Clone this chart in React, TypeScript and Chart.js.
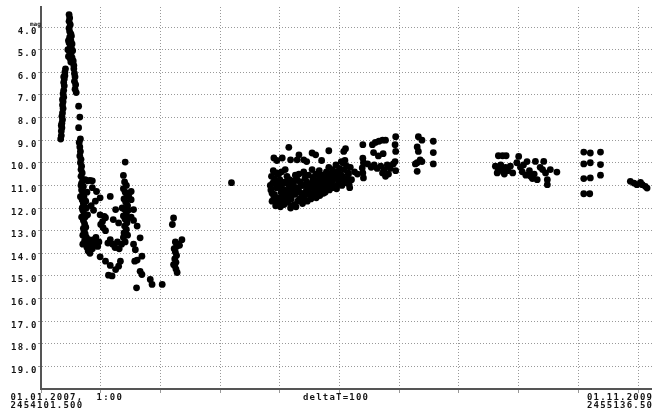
import React, { useEffect, useRef } from "react";
import { Chart, registerables } from "chart.js";

Chart.register(...registerables);

// x values: days since JD 2454101.5 ; y values: magnitude
const START_JD = 2454101.5;
const END_JD = 2455136.5;
const SPAN_DAYS = END_JD - START_JD;
const dayTicks = [0, 100, 200, 300, 400, 500, 600, 700, 800, 900, 1000];
const magTicks = [4, 5, 6, 7, 8, 9, 10, 11, 12, 13, 14, 15, 16, 17, 18, 19];
const yTitle = "mag";
const leftLabel = ["01.01.2007,  1:00", "2454101.500"];
const midLabel = "deltaT=100";
const rightLabel = ["01.11.2009,", "2455136.500"];

const rise2007 = [[33,8.95],[34,8.8],[34,8.6],[35,8.45],[35,8.25],[36,8.1],[35,7.95],[36,7.8],[37,7.6],[36,7.45],[37,7.3],[38,7.1],[37,6.95],[38,6.8],[39,6.6],[38,6.45],[39,6.3],[40,6.15],[40,6.0],[41,5.85],[34,8.35],[36,7.2],[38,6.2]];

const peak2007 = [[47,3.45],[48,3.6],[47,3.75],[49,3.9],[47,4.05],[48,4.2],[50,4.3],[48,4.45],[50,4.6],[47,4.7],[49,4.85],[51,4.95],[48,5.1],[50,5.2],[46,5.3],[49,5.4],[45,5.0],[46,4.6],[52,4.75],[53,5.05],[52,5.35],[54,5.5],[55,5.7],[55,5.85],[56,6.05],[57,6.2],[56,6.4],[58,6.55],[57,6.75],[59,6.9],[50,5.55],[51,4.4]];

const after2007 = [[63,7.5],[65,7.98],[63,8.45],[66,8.95]];

const decline2007 = [[64,9.1],[65,9.3],[66,9.5],[65,9.7],[67,9.85],[66,10.0],[68,10.15],[67,10.3],[69,10.45],[67,10.6],[70,10.75],[68,10.9],[71,11.05],[68,11.2],[70,11.35],[72,11.5],[69,11.65],[71,11.8],[73,11.95],[70,12.1],[72,12.25],[74,12.4],[71,12.55],[73,12.7],[75,12.85],[72,13.0],[74,13.15],[76,13.3],[73,13.45],[75,13.6],[77,13.75],[70,13.6],[67,11.0],[69,12.0],[71,12.9],[76,12.0],[78,12.3],[77,11.3],[75,11.7],[74,10.75],[78,10.8],[82,10.78],[86,10.8],[66,11.5],[68,12.4],[70,13.2]];

const mid2007 = [[86,11.1],[93,11.27],[99,11.55],[91,11.7],[84,11.9],[88,12.1],[99,12.3],[108,12.43],[103,12.6],[104,12.87],[108,13.0],[100,12.73],[106,12.37],[116,11.49],[125,12.07],[121,12.51],[130,12.66],[80,13.4],[82,13.6],[84,13.5],[86,13.8],[88,13.4],[79,13.9],[90,13.6],[92,13.3],[95,13.7],[82,14.0],[97,13.5],[116,13.4],[120,13.6],[124,13.75],[128,13.5],[131,13.8],[112,13.55]];

const fade2007 = [[99,14.16],[108,14.35],[116,14.54],[119,15.0],[113,14.97],[125,14.72],[130,14.57],[133,14.35],[157,14.35],[161,14.3],[169,14.13],[166,14.8],[169,14.94],[183,15.16],[186,15.38],[203,15.38],[160,15.53]];

const rebright2007 = [[141,9.97],[138,10.56],[140,10.85],[143,11.0],[138,11.15],[141,11.3],[144,11.45],[139,11.6],[142,11.75],[145,11.9],[140,12.05],[143,12.2],[138,12.35],[141,12.5],[144,12.65],[140,12.8],[143,12.95],[139,13.1],[146,12.1],[147,11.5],[136,12.0],[151,11.27],[151,11.63],[155,12.07],[146,12.43],[161,12.8],[166,13.32],[155,13.6],[158,13.84],[151,12.4],[155,12.55],[135,13.6],[138,13.3],[141,13.5],[145,13.2]];

const late2007 = [[222,12.44],[220,12.73],[236,13.4],[230,13.6],[225,13.5],[227,13.7],[223,13.8],[225,13.95],[227,14.1],[224,14.25],[226,14.4],[224,14.55],[226,14.7],[228,14.85],[222,14.5],[232,13.65]];

const single2007 = [[319,10.88]];

const season2008a = [[386,10.6],[388,10.9],[385,11.2],[390,11.5],[387,11.7],[392,10.8],[394,11.1],[391,11.4],[396,11.8],[393,11.9],[398,10.5],[400,10.75],[397,11.0],[402,11.3],[399,11.55],[404,11.75],[401,11.95],[406,10.9],[408,11.2],[405,11.45],[410,11.65],[407,11.85],[412,10.6],[414,10.95],[411,11.25],[416,11.5],[413,11.75],[418,12.0],[420,10.8],[417,11.1],[422,11.35],[419,11.6],[424,11.85],[426,10.55],[423,10.9],[428,11.15],[425,11.4],[430,11.7],[427,11.95],[389,10.35],[395,10.45],[403,10.4],[409,10.3]];

const season2008b = [[432,10.5],[434,10.85],[431,11.1],[436,11.35],[433,11.6],[438,11.8],[440,10.4],[442,10.7],[439,11.0],[444,11.25],[441,11.5],[446,11.7],[448,10.55],[445,10.85],[450,11.1],[447,11.4],[452,11.6],[454,10.3],[456,10.65],[453,10.95],[458,11.2],[455,11.45],[460,10.5],[462,10.8],[459,11.05],[464,11.3],[461,11.55],[466,10.35],[468,10.7],[465,10.95],[470,11.2],[467,11.45],[472,10.55],[474,10.85],[471,11.1],[476,11.3],[478,10.4],[475,10.65],[480,10.95],[477,11.15]];

const season2008c = [[482,10.2],[484,10.5],[481,10.75],[486,11.0],[483,11.2],[488,10.3],[490,10.6],[487,10.85],[492,11.05],[494,10.1],[496,10.4],[493,10.7],[498,10.9],[495,11.15],[500,10.25],[502,10.55],[499,10.75],[504,11.0],[506,10.0],[508,10.3],[505,10.6],[510,10.85],[512,10.15],[514,10.45],[511,10.7],[516,10.95],[518,10.2],[515,10.5],[520,10.75],[517,11.1],[509,9.9],[503,9.95]];

const season2008fill = [[384,11.0],[387,11.35],[391,10.7],[395,11.65],[399,10.9],[403,11.1],[405,11.6],[409,10.85],[413,11.4],[416,10.75],[419,11.25],[421,11.9],[425,11.1],[429,10.75],[433,11.3],[437,11.0],[440,11.6],[443,10.55],[447,11.05],[451,11.35],[455,10.8],[457,11.4],[463,11.05],[466,10.6],[469,10.95],[473,11.35],[477,10.8],[479,10.55],[485,10.65],[489,11.1],[491,10.4],[497,10.6],[501,10.5],[507,10.75],[513,10.9]];

const season2008top = [[415,9.32],[390,9.79],[404,9.79],[418,9.87],[432,9.65],[429,9.87],[440,9.87],[454,9.57],[460,9.65],[482,9.47],[510,9.38],[507,9.5],[395,9.9],[470,9.9],[445,9.95]];

const season2008d = [[539,9.2],[539,9.8],[540,10.0],[538,10.23],[539,10.45],[540,10.67],[525,10.4],[530,10.5],[555,9.2],[560,9.1],[566,9.05],[572,9.0],[577,9.0],[557,9.55],[565,9.7],[573,9.6],[547,10.05],[553,10.2],[558,10.1],[563,10.25],[569,10.15],[575,10.3],[580,10.1],[585,10.25],[590,10.05],[572,10.45],[577,10.6],[582,10.5],[594,8.85],[593,9.2],[594,9.5],[593,9.95],[594,10.35],[632,8.85],[638,9.0],[630,9.3],[632,9.5],[635,9.87],[630,10.0],[638,9.95],[630,10.38],[627,10.05],[657,9.05],[657,9.55],[657,10.05]];

const season2009a = [[766,9.69],[773,9.69],[779,9.69],[761,10.15],[766,10.3],[770,10.1],[774,10.4],[778,10.2],[782,10.35],[786,10.15],[790,10.45],[764,10.45],[776,10.5],[768,10.2],[772,10.3],[800,9.72],[797,10.0],[803,10.2],[808,10.1],[814,9.95],[806,10.4],[812,10.55],[818,10.35],[823,10.7],[828,9.94],[831,10.75],[836,10.2],[842,9.94],[840,10.3],[845,10.45],[848,10.75],[848,10.97],[853,10.3],[864,10.41],[826,10.5],[820,10.6]];

const season2009b = [[909,9.53],[920,9.57],[937,9.53],[909,10.05],[920,10.0],[937,10.08],[909,10.7],[920,10.67],[937,10.55],[909,11.37],[919,11.37]];

const season2009c = [[987,10.82],[993,10.9],[998,10.97],[1004,10.87],[1007,10.97],[1012,11.04],[1015,11.12]];

const allSeries = [rise2007, peak2007, after2007, decline2007, mid2007, fade2007, rebright2007, late2007, single2007, season2008a, season2008b, season2008c, season2008fill, season2008top, season2008d, season2009a, season2009b, season2009c];

const GRID_COLOR = "#999999";
const AXIS_COLOR = "#555555";
const TEXT_COLOR = "#151515";

const labelPlugin = {
  id: "aavsoLabels",
  afterDraw(chart: any) {
    const ctx = chart.ctx as CanvasRenderingContext2D;
    const xs = chart.scales.x;
    const ys = chart.scales.y;
    ctx.save();
    ctx.fillStyle = TEXT_COLOR;
    ctx.font = 'bold 9px "DejaVu Sans Mono"';
    (ctx as any).letterSpacing = "1.2px";
    ctx.textBaseline = "alphabetic";
    ctx.textAlign = "right";
    magTicks.forEach((v) => {
      const y = ys.getPixelForValue(v);
      ctx.fillText(v.toFixed(1), xs.left - 3.5, y + 6.5);
    });
    ctx.textAlign = "left";
    const b1 = xs.top + 11;
    const b2 = xs.top + 18.5;
    ctx.fillText(leftLabel[0], 10.5, b1);
    ctx.fillText(leftLabel[1], 10.5, b2);
    ctx.fillText(midLabel, xs.left + 262, b1);
    ctx.fillText(rightLabel[0], xs.right - 72, b1);
    ctx.fillText(rightLabel[1], xs.right - 72, b2);
    (ctx as any).letterSpacing = "0px";
    ctx.font = 'bold 6px "DejaVu Sans Mono"';
    ctx.fillText(yTitle, 30, ys.top + 18.5);
    ctx.restore();
  },
};

export default function App() {
  const ref = useRef<HTMLCanvasElement | null>(null);
  useEffect(() => {
    if (!ref.current) return;
    const chart = new Chart(ref.current, {
      type: "scatter",
      data: {
        datasets: allSeries.map((s, i) => ({
          label: "s" + i,
          data: s.map((p) => ({ x: p[0], y: p[1] })),
          backgroundColor: "#000",
          borderColor: "#000",
          pointRadius: 3.4,
          pointBorderWidth: 0,
          showLine: false,
        })),
      },
      options: {
        responsive: false,
        animation: false,
        devicePixelRatio: 1,
        events: [],
        layout: { autoPadding: false, padding: { top: 7, right: 3, left: 0, bottom: 0 } },
        plugins: { legend: { display: false }, tooltip: { enabled: false }, title: { display: false } },
        scales: {
          x: {
            type: "linear",
            position: "bottom",
            min: 0,
            max: SPAN_DAYS,
            afterBuildTicks: (s: any) => {
              s.ticks = dayTicks.map((v) => ({ value: v }));
            },
            afterFit: (s: any) => {
              s.height = 25;
            },
            ticks: { display: false },
            grid: { color: GRID_COLOR, lineWidth: 1, drawTicks: true, tickLength: 4 },
            border: { display: true, color: AXIS_COLOR, width: 2, dash: [1, 2] },
          },
          y: {
            type: "linear",
            reverse: true,
            min: 3.116,
            max: 20,
            afterBuildTicks: (s: any) => {
              s.ticks = magTicks.map((v) => ({ value: v }));
            },
            afterFit: (s: any) => {
              s.width = 41;
            },
            ticks: { display: false },
            grid: { color: GRID_COLOR, lineWidth: 1, drawTicks: true, tickLength: 3 },
            border: { display: true, color: AXIS_COLOR, width: 2, dash: [1, 2] },
          },
        },
      },
      plugins: [labelPlugin],
    } as any);
    return () => chart.destroy();
  }, []);
  return (
    <div style={{ position: "fixed", left: 0, top: 0, width: 652, height: 414, overflow: "hidden", background: "#fff" }}>
      <canvas ref={ref} width={662} height={414} style={{ display: "block" }} />
    </div>
  );
}
